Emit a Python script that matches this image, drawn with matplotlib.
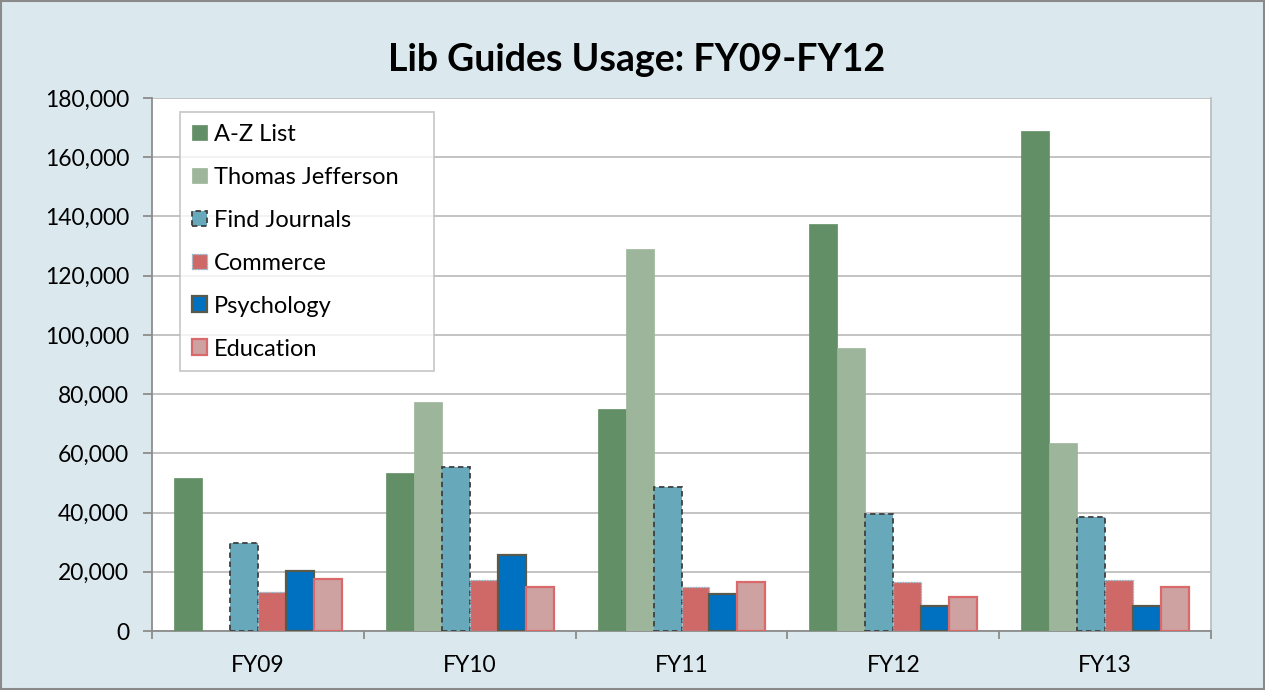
import numpy as np
import matplotlib.pyplot as plt
from matplotlib.patches import Patch, Rectangle
from matplotlib.ticker import FuncFormatter, MultipleLocator

years = ['FY09', 'FY10', 'FY11', 'FY12', 'FY13']
series = ['A-Z List', 'Thomas Jefferson', 'Find Journals', 'Commerce', 'Psychology', 'Education']

az_list = [51600, 53500, 75000, 137600, 168700]
thomas_jefferson = [0, 77200, 129000, 95500, 63400]
find_journals = [29600, 55500, 48600, 39600, 38400]
commerce = [13300, 17200, 14900, 16400, 17200]
psychology = [20400, 25800, 12400, 8400, 8500]
education = [17600, 14800, 16400, 11600, 15000]

values = [az_list, thomas_jefferson, find_journals, commerce, psychology, education]

# (face, edge, linestyle, linewidth)
styles = [
    ('#638F66', '#638F66', '-', 0.5),
    ('#9DB59A', '#9DB59A', '-', 0.5),
    ('#67A8BA', '#3F3F3F', (0, (3, 2)), 1.3),
    ('#CF6968', '#7FB8CC', (0, (1, 1)), 1.0),
    ('#0070C0', '#5A5A4C', '-', 1.6),
    ('#CDA2A1', '#D9696A', '-', 1.6),
]

fig = plt.figure(figsize=(12.65, 6.9), dpi=100)
fig.patch.set_facecolor('#DBE9EF')
ax = fig.add_axes([152 / 1265, 1 - 631 / 690, (1211 - 152) / 1265, (631 - 98) / 690])
ax.set_facecolor('white')

font = 'Lato'
x = np.arange(len(years))
w = 0.132
for i, (name, vals) in enumerate(zip(series, values)):
    fc, ec, ls, lw = styles[i]
    ax.bar(x + (i - 2.5) * w, vals, width=w, color=fc, edgecolor=ec,
           linestyle=ls, linewidth=lw, zorder=3)

ax.set_xlim(-0.5, len(years) - 0.5)
ax.set_ylim(0, 180000)
ax.yaxis.set_major_locator(MultipleLocator(20000))
ax.yaxis.set_major_formatter(FuncFormatter(lambda v, p: f'{int(v):,}'))
ax.grid(axis='y', color='#BEBEBE', linewidth=1.3, zorder=0)
ax.set_axisbelow(True)

ax.set_xticks(x)
ax.set_xticklabels(years)
ax.set_xticks(np.arange(-0.5, len(years), 1), minor=True)
ax.tick_params(axis='x', which='major', length=0, pad=17, labelsize=16.5)
ax.tick_params(axis='x', which='minor', length=6, width=1.3, color='#8C8C8C', direction='out')
ax.tick_params(axis='y', length=6.5, width=1.3, color='#8C8C8C', labelsize=16.5, pad=10)
for lab in ax.get_xticklabels() + ax.get_yticklabels():
    lab.set_fontfamily(font)

for s in ['top', 'right']:
    ax.spines[s].set_visible(False)
for s in ['left', 'bottom']:
    ax.spines[s].set_color('#8C8C8C')
    ax.spines[s].set_linewidth(1.3)
ax.plot([1, 1], [0, 1], transform=ax.transAxes, color='#BEBEBE', lw=1.3, clip_on=False, zorder=1)

# legend box in axes fraction: x 180..434 px, top at 112 px
lx0 = (180 - 152) / 1059
lx1 = (434 - 152) / 1059
ltop = (631 - 112) / 533
handles = [Patch(facecolor=s[0], edgecolor=s[1], linestyle=s[2], linewidth=s[3]) for s in styles]
leg = ax.legend(handles, series, loc='upper left', bbox_to_anchor=(lx0, ltop - 0.5, lx1 - lx0, 0.5),
                mode='expand', frameon=True, fancybox=False, prop={'family': font, 'size': 17},
                labelspacing=0.93, handlelength=0.65, handleheight=0.65,
                handletextpad=0.3, borderpad=0.5, borderaxespad=0)
leg.get_frame().set_edgecolor('#BEBEBE')
leg.get_frame().set_linewidth(1.3)
leg.set_zorder(5)

fig.text(0.503, 1 - 60 / 690, 'Lib Guides Usage: FY09-FY12', ha='center', va='center',
         fontsize=27, fontweight='bold', fontfamily=font)

fig.patches.append(Rectangle((0.001, 0.001), 0.998, 0.998, transform=fig.transFigure,
                             fill=False, edgecolor='#8A8A8A', linewidth=1.5))

fig.savefig('out.png', dpi=100, facecolor=fig.get_facecolor())
